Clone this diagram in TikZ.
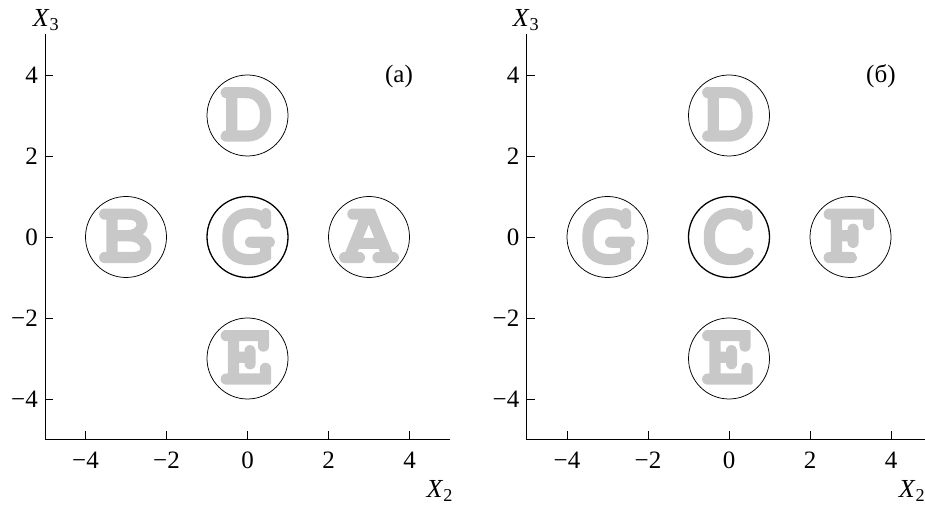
\documentclass[tikz,border=0pt]{standalone}
\usepackage[T1,TU]{fontenc}
\usepackage{fontspec}
\setmainfont{Liberation Serif}
\newcommand{\courbold}{\fontencoding{T1}\fontfamily{pcr}\fontseries{b}\fontshape{n}\selectfont}
\newcommand{\heavyletter}[1]{\special{pdf:literal 2 Tr 2.2 w 1 j}#1\special{pdf:literal 0 Tr}}
\definecolor{lettergray}{RGB}{200,200,200}
\tikzset{
  ball/.style={circle, draw=black, line width=0.75pt, minimum size=81pt, inner sep=0pt,
    text=lettergray, font=\courbold\fontsize{90}{90}\selectfont},
  ballc/.style={ball, line width=1.3pt},
  axisline/.style={line width=0.8pt},
  ticklab/.style={inner sep=0pt, font=\fontsize{25}{25}\selectfont},
  axlab/.style={inner sep=0pt, font=\fontsize{26}{26}\selectfont},
  panlab/.style={inner sep=0pt, font=\fontsize{25}{25}\selectfont}
}
\newcommand{\panelaxes}{%
  \draw[axisline] (-5,5) -- (-5,-5) -- (5,-5);
  \foreach \t/\l in {-4/−4,-2/−2,0/0,2/2,4/4}{
    \draw[axisline] (\t,-5) -- ++(0,8pt);
    \draw[axisline] (-5,\t) -- ++(8pt,0);
    \node[ticklab, anchor=north] at ([yshift=-12pt]\t,-5) {\l};
    \node[ticklab, anchor=east] at ([xshift=-7pt]-5,\t) {\l};
  }
}
\begin{document}
\begin{tikzpicture}[x=40.5pt,y=40.5pt]
\useasboundingbox (0,0) rectangle (925pt,508pt);
\begin{scope}
\clip (0,0) rectangle (925pt,508pt);
% left panel
\begin{scope}[shift={(247.5pt,271pt)}]
  \panelaxes
  \node[axlab] (x3a) at (-4.975,5.36) {\textit{X}\textsubscript{3}};
  \node[axlab] (x2a) at (4.75,-6.27) {\textit{X}\textsubscript{2}};
  \node[panlab] (la) at (3.74,3.975) {(а)};
  \node[ballc] (aG) at (0,0) {\heavyletter{G}};
  \node[ball] (aA) at (3,0) {\heavyletter{A}};
  \node[ball] (aB) at (-3,0) {\heavyletter{B}};
  \node[ball] (aD) at (0,3) {\heavyletter{D}};
  \node[ball] (aE) at (0,-3) {\heavyletter{E}};
\end{scope}
% right panel
\begin{scope}[shift={(729pt,271pt)}]
  \panelaxes
  \node[axlab] (x3b) at (-5.01,5.36) {\textit{X}\textsubscript{3}};
  \node[axlab] (x2b) at (4.52,-6.27) {\textit{X}\textsubscript{2}};
  \node[panlab] (lb) at (3.75,3.975) {(б)};
  \node[ballc] (bC) at (0,0) {\heavyletter{C}};
  \node[ball] (bF) at (3,0) {\heavyletter{F}};
  \node[ball] (bG) at (-3,0) {\heavyletter{G}};
  \node[ball] (bD) at (0,3) {\heavyletter{D}};
  \node[ball] (bE) at (0,-3) {\heavyletter{E}};
\end{scope}
\end{scope}
\end{tikzpicture}
\end{document}
